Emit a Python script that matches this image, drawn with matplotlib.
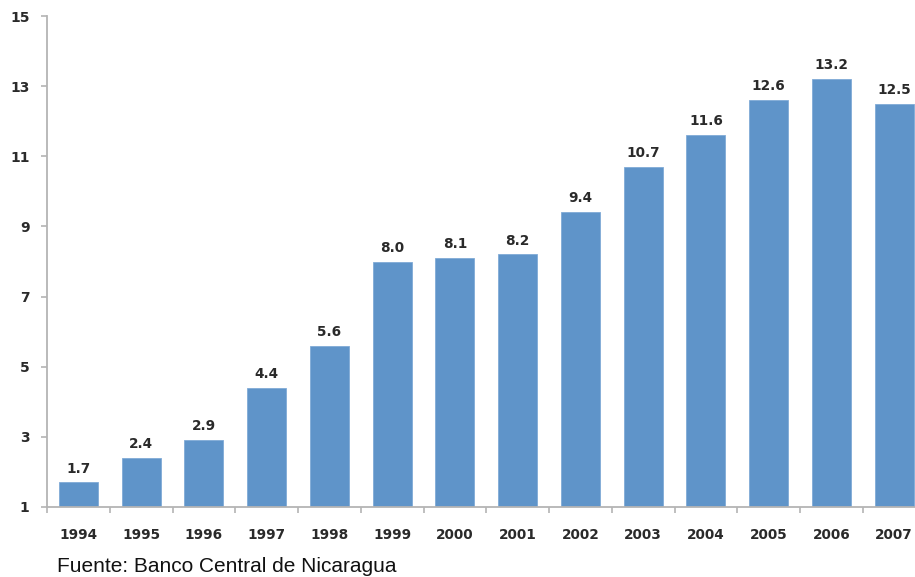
import matplotlib
matplotlib.use("Agg")
import matplotlib.pyplot as plt
import numpy as np

# Years and values
years = ["1994", "1995", "1996", "1997", "1998", "1999", "2000",
         "2001", "2002", "2003", "2004", "2005", "2006", "2007"]
values = [1.7, 2.4, 2.9, 4.4, 5.6, 8.0, 8.1, 8.2, 9.4, 10.7, 11.6, 12.6, 13.2, 12.5]
yticks = [1, 3, 5, 7, 9, 11, 13, 15]

bar_color = "#5f94c9"
axis_color = "#b4b4b4"
text_color = "#2a2a2a"

fig = plt.figure(figsize=(9.15, 5.77), dpi=100)
# the axes run a bit past the right edge, so the last bar is cut off
ax = fig.add_axes([47 / 915, 1 - 507 / 577, 878.5 / 915, 491 / 577])

x = np.arange(len(years))
ax.bar(x, np.array(values) - 1, bottom=1, width=0.62, color=bar_color,
       edgecolor="#80aad7", linewidth=0.6)

for xi, v in zip(x, values):
    ax.annotate(f"{v:.1f}", (xi, v), xytext=(0, 5), textcoords="offset points",
                ha="center", va="bottom", fontsize=9.8, color=text_color,
                fontweight="bold")

ax.set_xlim(-0.5, len(years) - 0.5)
ax.set_ylim(1, 15)
ax.set_yticks(yticks)
ax.set_yticklabels([str(t) for t in yticks], fontsize=10, color=text_color,
                   fontweight="bold")
ax.set_xticks(x)
ax.set_xticklabels(years, fontsize=9.8, color=text_color, fontweight="bold")
ax.set_xticks(np.arange(len(years) + 1) - 0.5, minor=True)

ax.tick_params(axis="x", which="major", length=0, pad=15)
ax.tick_params(axis="x", which="minor", length=4, width=1.2, color=axis_color,
               direction="out")
ax.tick_params(axis="y", length=4.5, width=1.2, color=axis_color, pad=8)

for s in ["top", "right"]:
    ax.spines[s].set_visible(False)
for s in ["left", "bottom"]:
    ax.spines[s].set_color(axis_color)
    ax.spines[s].set_linewidth(1.3)

fig.text(57 / 915, 1 - 566 / 577, "Fuente: Banco Central de Nicaragua",
         fontsize=15, family="Liberation Sans", color="#111111",
         ha="left", va="center")

fig.savefig("out.png", dpi=100)
